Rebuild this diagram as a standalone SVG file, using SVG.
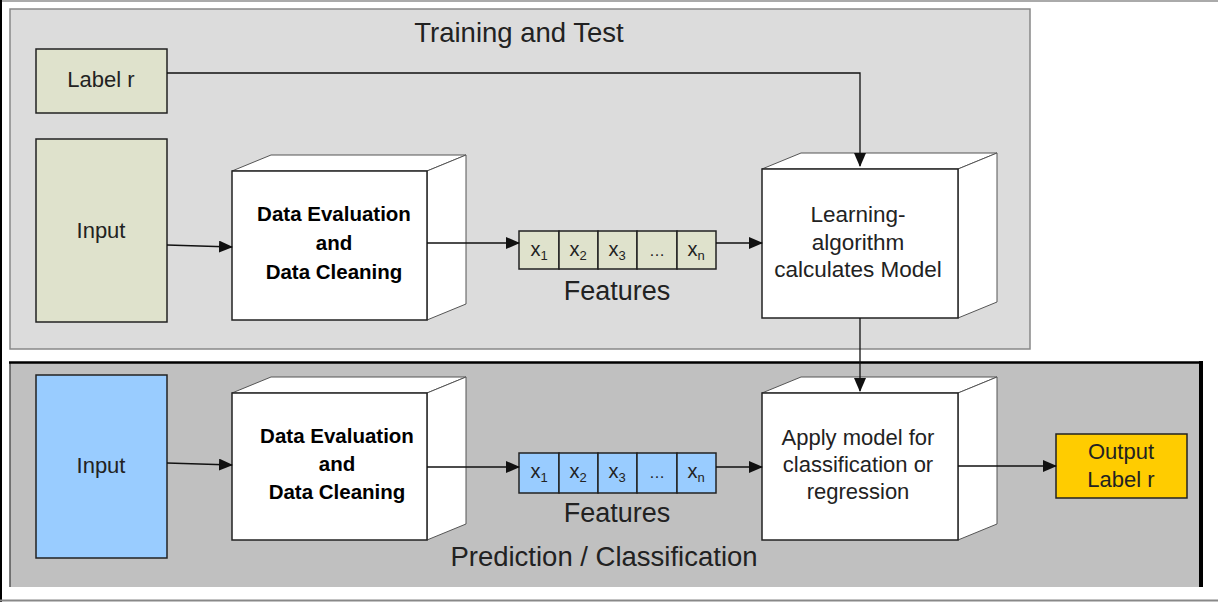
<svg xmlns="http://www.w3.org/2000/svg" width="1218" height="602" viewBox="0 0 1218 602">
<defs>
<marker id="ah" markerUnits="userSpaceOnUse" markerWidth="14" markerHeight="12" refX="13" refY="6" orient="auto">
<path d="M0,0 L14,6 L0,12 Z" fill="#111"/>
</marker>
<style>
.t{font-family:"Liberation Sans",Arial,sans-serif;fill:#222;text-anchor:middle}
.b{font-family:"Liberation Sans",Arial,sans-serif;font-weight:bold;fill:#000;text-anchor:middle;font-size:20.5px}
.front{fill:#fff;stroke:#222;stroke-width:1.5}
.side{fill:#fff;stroke:#555;stroke-width:1}
.box{stroke:#222;stroke-width:1.5}
.cell{stroke:#222;stroke-width:1.5}
.conn{fill:none;stroke:#111;stroke-width:1.3;marker-end:url(#ah)}
</style>
</defs>
<rect width="1218" height="602" fill="#fff"/>
<line x1="0" y1="1" x2="1218" y2="1" stroke="#aaa" stroke-width="2"/>
<line x1="1" y1="0" x2="1" y2="602" stroke="#000" stroke-width="2"/>
<line x1="0" y1="600.5" x2="1218" y2="600.5" stroke="#888" stroke-width="2"/>

<g id="panel-training">
<rect x="10" y="9" width="1020" height="340" fill="#dcdcdc" stroke="#888" stroke-width="1.5"/>
<text class="t" x="519" y="42" font-size="27.5">Training and Test</text>
</g>
<g id="panel-prediction">
<rect x="10" y="362" width="1191" height="225" fill="#c0c0c0"/>
<line x1="10" y1="362" x2="10" y2="587" stroke="#555" stroke-width="1.5"/>
<line x1="9" y1="362.5" x2="1203" y2="362.5" stroke="#000" stroke-width="2.5"/>
<line x1="1201" y1="361" x2="1201" y2="587" stroke="#000" stroke-width="4"/>
<text class="t" x="604" y="566" font-size="27.5">Prediction / Classification</text>
</g>

<g id="label-r">
<rect class="box" x="36" y="49" width="131" height="64" fill="#dfe2cc"/>
<text class="t" x="101" y="87" font-size="22">Label r</text>
</g>
<g id="input-train">
<rect class="box" x="36" y="139" width="131" height="183" fill="#dfe2cc"/>
<text class="t" x="101" y="238" font-size="22">Input</text>
</g>

<g id="clean-train">
<polygon class="side" points="232,171 271,155 466,155 427,171"/>
<polygon class="side" points="427,171 466,155 466,304 427,320"/>
<rect class="front" x="232" y="171" width="195" height="149"/>
<text class="b" x="334" y="221">Data Evaluation</text>
<text class="b" x="334" y="250">and</text>
<text class="b" x="334" y="279">Data Cleaning</text>
</g>

<g id="features-train">
<rect class="cell" x="519" y="231" width="40" height="38" fill="#dfe2cc"/>
<rect class="cell" x="559" y="231" width="39" height="38" fill="#dfe2cc"/>
<rect class="cell" x="598" y="231" width="39" height="38" fill="#dfe2cc"/>
<rect class="cell" x="637" y="231" width="40" height="38" fill="#dfe2cc"/>
<rect class="cell" x="677" y="231" width="39" height="38" fill="#dfe2cc"/>
<text class="t" x="539" y="256" font-size="20">x<tspan font-size="13" dy="4">1</tspan></text>
<text class="t" x="578" y="256" font-size="20">x<tspan font-size="13" dy="4">2</tspan></text>
<text class="t" x="617" y="256" font-size="20">x<tspan font-size="13" dy="4">3</tspan></text>
<text class="t" x="657" y="256" font-size="16" fill="#555">…</text>
<text class="t" x="696" y="256" font-size="20">x<tspan font-size="13" dy="4">n</tspan></text>
<text class="t" x="617" y="300" font-size="27">Features</text>
</g>

<g id="learning">
<polygon class="side" points="762,169 801,153 997,153 958,169"/>
<polygon class="side" points="958,169 997,153 997,302 958,318"/>
<rect class="front" x="762" y="169" width="196" height="149"/>
<text class="t" x="858" y="222" font-size="22.5">Learning-</text>
<text class="t" x="858" y="250" font-size="22.5">algorithm</text>
<text class="t" x="858" y="277" font-size="22.5">calculates Model</text>
</g>

<g id="input-predict">
<rect class="box" x="36" y="375" width="131" height="183" fill="#99ccff"/>
<text class="t" x="101" y="473" font-size="22">Input</text>
</g>

<g id="clean-predict">
<polygon class="side" points="232,393 271,377 466,377 427,393"/>
<polygon class="side" points="427,393 466,377 466,524 427,540"/>
<rect class="front" x="232" y="393" width="195" height="147"/>
<text class="b" x="337" y="443">Data Evaluation</text>
<text class="b" x="337" y="471">and</text>
<text class="b" x="337" y="499">Data Cleaning</text>
</g>

<g id="features-predict">
<rect class="cell" x="519" y="453" width="40" height="40" fill="#99ccff"/>
<rect class="cell" x="559" y="453" width="39" height="40" fill="#99ccff"/>
<rect class="cell" x="598" y="453" width="39" height="40" fill="#99ccff"/>
<rect class="cell" x="637" y="453" width="40" height="40" fill="#99ccff"/>
<rect class="cell" x="677" y="453" width="39" height="40" fill="#99ccff"/>
<text class="t" x="539" y="478" font-size="20">x<tspan font-size="13" dy="4">1</tspan></text>
<text class="t" x="578" y="478" font-size="20">x<tspan font-size="13" dy="4">2</tspan></text>
<text class="t" x="617" y="478" font-size="20">x<tspan font-size="13" dy="4">3</tspan></text>
<text class="t" x="657" y="478" font-size="16" fill="#555">…</text>
<text class="t" x="696" y="478" font-size="20">x<tspan font-size="13" dy="4">n</tspan></text>
<text class="t" x="617" y="522" font-size="27">Features</text>
</g>

<g id="apply">
<polygon class="side" points="762,393 801,377 997,377 958,393"/>
<polygon class="side" points="958,393 997,377 997,524 958,540"/>
<rect class="front" x="762" y="393" width="196" height="147"/>
<text class="t" x="858" y="445" font-size="22">Apply model for</text>
<text class="t" x="858" y="472" font-size="22">classification or</text>
<text class="t" x="858" y="499" font-size="22">regression</text>
</g>

<g id="output">
<rect class="box" x="1056" y="434" width="131" height="64" fill="#ffcc00"/>
<text class="t" x="1121" y="459" font-size="22">Output</text>
<text class="t" x="1121" y="487" font-size="22">Label r</text>
</g>

<g id="connectors">
<path class="conn" d="M167,73 H860 V166"/>
<path class="conn" d="M167,245 L232,247"/>
<path class="conn" d="M427,243 L519,243"/>
<path class="conn" d="M716,243 L762,243"/>
<path class="conn" d="M860,318 V391"/>
<path class="conn" d="M167,463 L232,465"/>
<path class="conn" d="M427,467 L519,467"/>
<path class="conn" d="M716,467 L762,467"/>
<path class="conn" d="M958,466 L1056,466"/>
</g>
</svg>
